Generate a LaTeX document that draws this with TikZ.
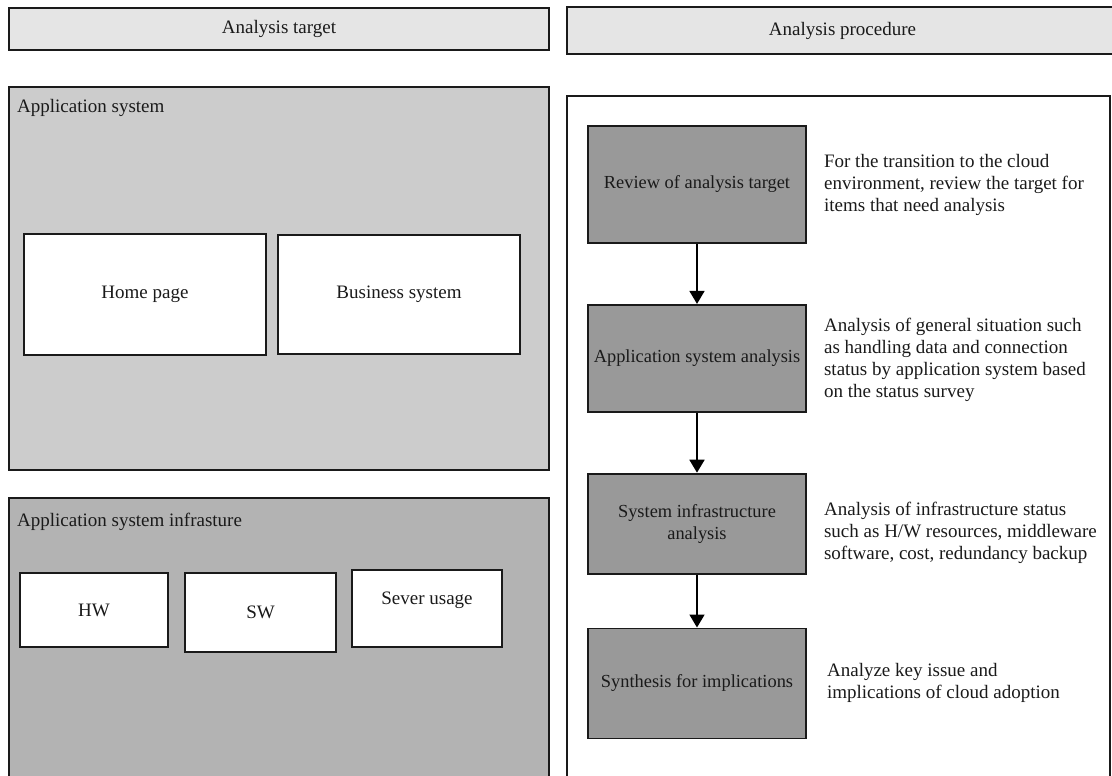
\documentclass[tikz,border=0pt]{standalone}
\usepackage{fontspec}
\setmainfont{Liberation Serif}
\usetikzlibrary{arrows.meta,positioning}
\definecolor{SheetInk}{HTML}{1A1A1A}
\definecolor{HeadFill}{HTML}{E5E5E5}
\definecolor{AppFill}{HTML}{CCCCCC}
\definecolor{InfraFill}{HTML}{B3B3B3}
\definecolor{StageFill}{HTML}{999999}
\tikzset{
  every node/.style={font=\fontsize{19}{22}\selectfont, text=SheetInk},
  header/.style={draw=SheetInk, line width=1.3pt, fill=HeadFill, inner sep=0pt},
  group/.style={draw=SheetInk, line width=1.3pt},
  item/.style={draw=SheetInk, line width=1.5pt, fill=white, inner sep=0pt},
  stage/.style={draw=SheetInk, line width=1.8pt, fill=StageFill, inner sep=0pt, align=center,
    font=\fontsize{18.4}{22}\selectfont},
  note/.style={anchor=west, align=left, inner sep=0pt},
  flow/.style={-{Triangle[length=13pt,width=15pt]}, draw=black, line width=1.8pt},
}

\begin{document}
\begin{tikzpicture}[x=1pt,y=-1pt]
  \useasboundingbox (0,0) rectangle (1112,776);
  % Column headers
  \node[header, minimum width=540pt, minimum height=42pt] (targethead) at (279,29) {Analysis target};
  \node[header, minimum width=551pt, minimum height=47pt] (prochead) at (842.5,30.5) {Analysis procedure};
  % Left column: analysis target groups
  \draw[group, fill=AppFill] (9,87) rectangle (549,470);
  \node[anchor=west, inner sep=0pt] (applabel) at (17,108) {Application system};
  \node[item, minimum width=242pt, minimum height=121pt] (home) at (145,294.5) {Home page};
  \node[item, minimum width=242pt, minimum height=119pt] (business) at (399,294.5) {Business system};
  \draw[group, fill=InfraFill] (9,498) rectangle (549,790);
  \node[anchor=west, inner sep=0pt] (infralabel) at (17,522) {Application system infrasture};
  \node[item, minimum width=148pt, minimum height=74pt] (hw) at (94,610) {HW};
  \node[item, minimum width=151pt, minimum height=79pt] (sw) at (260.5,612.5) {SW};
  \node[item, minimum width=150pt, minimum height=77pt] (server) at (427,608.5) {\raisebox{20pt}{Sever usage}};
  % Right column: procedure
  \draw[group] (567,96) rectangle (1110,790);
  \node[stage, minimum width=218pt, minimum height=117pt] (review) at (697,184.5) {Review of analysis target};
  \node[stage, minimum width=218pt, minimum height=107pt, below=60pt of review] (appsys) {Application system analysis};
  \node[stage, minimum width=218pt, minimum height=100pt, below=60pt of appsys] (infra) {System infrastructure\\analysis};
  \node[stage, minimum width=218pt, minimum height=110pt, below=53pt of infra] (synth) {Synthesis for implications};
  \foreach \a/\b in {review/appsys, appsys/infra, infra/synth}
    \draw[flow] (\a) -- (\b);
  % Descriptions beside each stage
  \node[note, right=17pt of review] (reviewnote) {For the transition to the cloud\\environment, review the target for\\items that need analysis};
  \node[note, right=17pt of appsys, yshift=-1.5pt] (appsysnote) {Analysis of general situation such\\as handling data and connection\\status by application system based\\on the status survey};
  \node[note, right=17pt of infra, yshift=-9pt] (infranote) {Analysis of infrastructure status\\such as H/W resources, middleware\\software, cost, redundancy backup};
  \node[note, right=20pt of synth] (synthnote) {Analyze key issue and\\implications of cloud adoption};
\end{tikzpicture}
\end{document}
